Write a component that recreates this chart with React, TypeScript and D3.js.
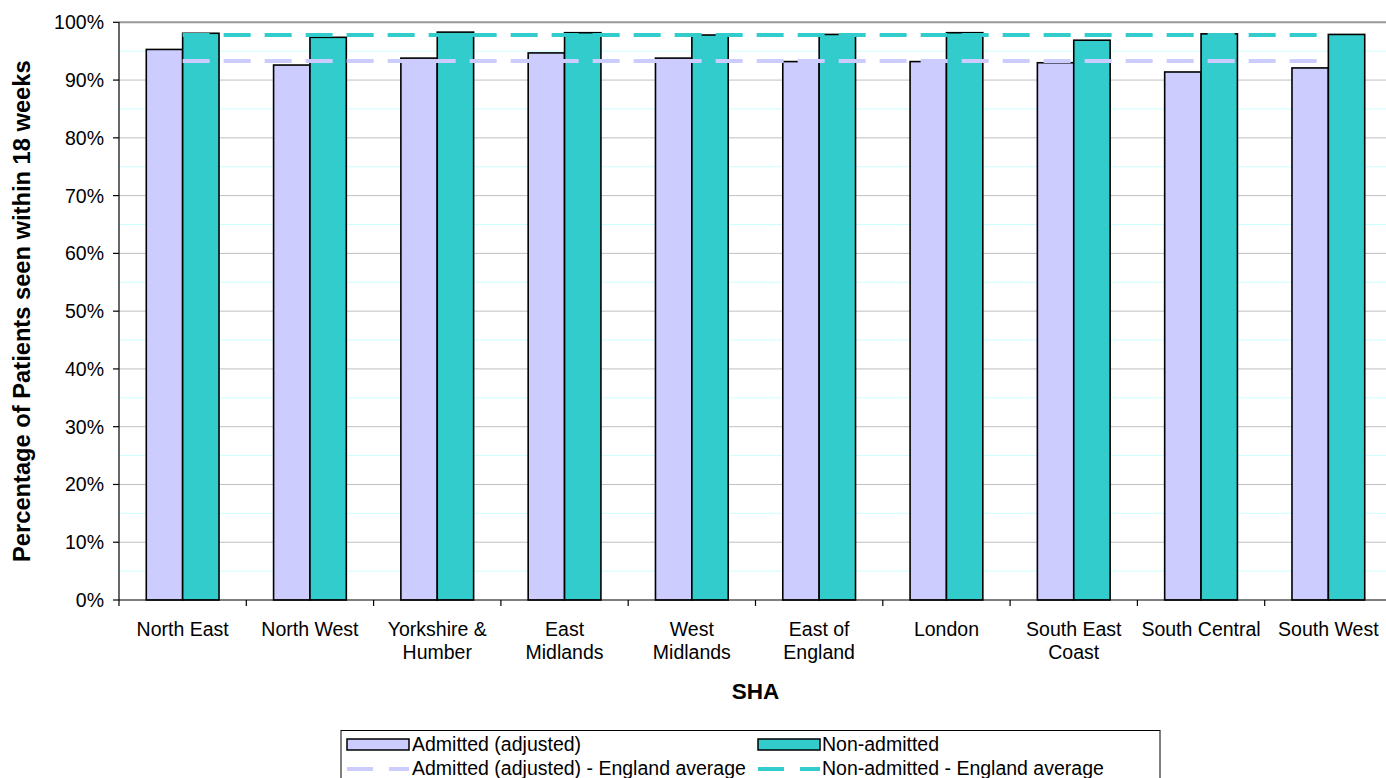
import React from "react";
import * as d3 from "d3";

const categories = [
  "North East",
  "North West",
  "Yorkshire & Humber",
  "East Midlands",
  "West Midlands",
  "East of England",
  "London",
  "South East Coast",
  "South Central",
  "South West",
];
const categoryLines = [
  ["North East"],
  ["North West"],
  ["Yorkshire &", "Humber"],
  ["East", "Midlands"],
  ["West", "Midlands"],
  ["East of", "England"],
  ["London"],
  ["South East", "Coast"],
  ["South Central"],
  ["South West"],
];
const admitted = [95.3, 92.6, 93.8, 94.7, 93.8, 93.2, 93.2, 93.0, 91.4, 92.1];
const nonAdmitted = [98.1, 97.4, 98.3, 98.2, 97.8, 97.9, 98.2, 96.9, 98.0, 97.9];
const admittedAvg = 93.3;
const nonAdmittedAvg = 97.8;
const yTicks = [0, 10, 20, 30, 40, 50, 60, 70, 80, 90, 100];
const minorTicks = [5, 15, 25, 35, 45, 55, 65, 75, 85, 95];

const W = 1386;
const H = 778;
const left = 119;
const right = 1392;
const top = 22.3;
const bottom = 600;

const C_ADM = "#CCCCFF";
const C_NON = "#33CCCC";
const FONT = "'Liberation Sans', Arial, sans-serif";
const FS = 19.5;

export default function App() {
  const x = d3.scaleBand<string>().domain(categories).range([left, right]).padding(0);
  const y = d3.scaleLinear().domain([0, 100]).range([bottom, top]);
  const bw = x.bandwidth() / 3.5;
  const inner = d3
    .scaleBand<string>()
    .domain(["adm", "non"])
    .range([x.bandwidth() / 2 - bw, x.bandwidth() / 2 + bw]);

  const firstC = (x(categories[0]) as number) + x.bandwidth() / 2;
  const lastC = (x(categories[categories.length - 1]) as number) + x.bandwidth() / 2;
  const lineGen = d3.line<number>().x((d) => d).y(0);

  return (
    <svg
      width={W}
      height={H}
      style={{ position: "absolute", left: 0, top: 0, background: "#fff" }}
      fontFamily={FONT}
    >
      {/* minor gridlines */}
      {minorTicks.map((t) => (
        <line key={"m" + t} x1={left} x2={W} y1={y(t)} y2={y(t)} stroke="#CCFFFF" strokeWidth={1} />
      ))}
      {/* major gridlines */}
      {yTicks.slice(1).map((t) => (
        <line
          key={"g" + t}
          x1={left}
          x2={W}
          y1={y(t)}
          y2={y(t)}
          stroke={t === 100 ? "#999999" : "#C0C0C0"}
          strokeWidth={t === 100 ? 2 : 1}
        />
      ))}
      {/* bars */}
      {categories.map((c, i) => {
        const x0 = x(c) as number;
        return (
          <g key={c}>
            <rect
              x={x0 + (inner("adm") as number)}
              y={y(admitted[i])}
              width={bw}
              height={bottom - y(admitted[i])}
              fill={C_ADM}
              stroke="#000"
              strokeWidth={1.6}
            />
            <rect
              x={x0 + (inner("non") as number)}
              y={y(nonAdmitted[i])}
              width={bw}
              height={bottom - y(nonAdmitted[i])}
              fill={C_NON}
              stroke="#000"
              strokeWidth={1.6}
            />
          </g>
        );
      })}
      {/* average lines */}
      <path
        d={lineGen([firstC, lastC]) as string}
        transform={`translate(0,${y(admittedAvg)})`}
        stroke={C_ADM}
        strokeWidth={4}
        strokeDasharray="27 14"
        fill="none"
      />
      <path
        d={lineGen([firstC, lastC]) as string}
        transform={`translate(0,${y(nonAdmittedAvg)})`}
        stroke={C_NON}
        strokeWidth={4}
        strokeDasharray="27 14"
        fill="none"
      />
      {/* y axis */}
      <line x1={left} x2={left} y1={top} y2={bottom} stroke="#000" strokeWidth={1.2} />
      {yTicks.map((t) => (
        <g key={"yt" + t}>
          <line x1={left - 6} x2={left} y1={y(t)} y2={y(t)} stroke="#000" strokeWidth={1.2} />
          <text x={104} y={y(t)} dy="0.36em" textAnchor="end" fontSize={FS} fill="#000">
            {t}%
          </text>
        </g>
      ))}
      {/* x axis */}
      <line x1={left} x2={W} y1={bottom} y2={bottom} stroke="#000" strokeWidth={1.2} />
      {categories.map((c, i) => {
        const x0 = x(c) as number;
        return (
          <g key={"xt" + c}>
            <line x1={x0} x2={x0} y1={bottom} y2={bottom + 6} stroke="#000" strokeWidth={1.2} />
            {categoryLines[i].map((ln, j) => (
              <text
                key={j}
                x={x0 + x.bandwidth() / 2}
                y={635.5 + j * 23.5}
                textAnchor="middle"
                fontSize={FS}
                fill="#000"
              >
                {ln}
              </text>
            ))}
          </g>
        );
      })}
      {/* axis titles */}
      <text
        transform={`translate(30,${(top + bottom) / 2}) rotate(-90)`}
        textAnchor="middle"
        fontSize={23.7}
        fontWeight="bold"
        fill="#000"
      >
        Percentage of Patients seen within 18 weeks
      </text>
      <text x={(left + right) / 2} y={699} textAnchor="middle" fontSize={22.5} fontWeight="bold" fill="#000">
        SHA
      </text>
      {/* legend */}
      <rect x={341} y={730.5} width={819} height={60} fill="#fff" stroke="#000" strokeWidth={1} />
      <rect x={347} y={739} width={62} height={11} fill={C_ADM} stroke="#000" strokeWidth={1.5} />
      <text x={412} y={751} fontSize={FS} fill="#000">Admitted (adjusted)</text>
      <rect x={758} y={739} width={62} height={11} fill={C_NON} stroke="#000" strokeWidth={1.5} />
      <text x={822} y={751} fontSize={FS} fill="#000">Non-admitted</text>
      <line x1={347} x2={409} y1={769} y2={769} stroke={C_ADM} strokeWidth={4} strokeDasharray="26 16" />
      <text x={412} y={775} fontSize={FS} fill="#000">Admitted (adjusted) - England average</text>
      <line x1={758} x2={820} y1={769} y2={769} stroke={C_NON} strokeWidth={4} strokeDasharray="26 16" />
      <text x={822} y={775} fontSize={FS} fill="#000">Non-admitted - England average</text>
    </svg>
  );
}
